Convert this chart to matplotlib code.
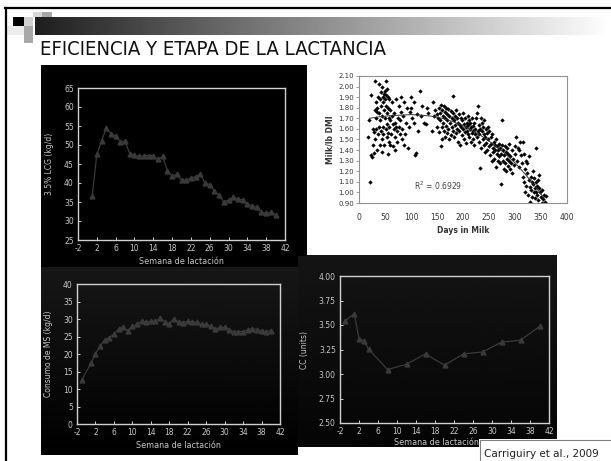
import numpy as np
import matplotlib.pyplot as plt
from matplotlib.patches import Rectangle

plt.rcParams['axes.unicode_minus'] = False
plt.rcParams['font.family'] = ['DejaVu Sans']

# --- panel 1: 3.5% LCG by week of lactation
weeks_lcg = list(range(1, 41))
lcg = [36.5, 47.5, 51.0, 54.5, 53.0, 52.3, 50.8, 51.0, 47.7, 47.3,
       47.0, 47.2, 47.2, 47.2, 46.3, 47.0, 43.2, 41.8, 42.3, 40.8,
       40.8, 41.3, 41.7, 42.3, 40.0, 39.6, 38.0, 36.8, 35.0, 35.5,
       36.3, 35.7, 35.6, 34.5, 34.0, 33.6, 32.3, 32.0, 32.3, 31.7]

# --- panel 3: dry matter intake
weeks_ms = [-1] + list(range(1, 41))
ms = [12.5, 17.3, 20.0, 22.3, 24.0, 24.7, 25.7, 27.1, 27.8, 26.6, 27.9,
      28.5, 29.4, 29.1, 29.4, 29.3, 30.2, 29.2, 28.7, 30.1, 29.1,
      29.0, 29.3, 29.2, 29.1, 28.5, 28.5, 27.9, 27.1, 27.6, 27.6,
      27.0, 26.3, 26.4, 26.4, 26.9, 27.2, 27.0, 26.6, 26.4, 26.7]

# --- panel 4: body condition
weeks_cc = [-1, 1, 2, 3, 4, 8, 12, 16, 20, 24, 28, 32, 36, 40]
cc = [3.54, 3.615, 3.36, 3.34, 3.255, 3.045, 3.10, 3.205, 3.09, 3.205,
      3.225, 3.325, 3.345, 3.485]

# --- panel 2: milk / lb DMI scatter
pts = [
    (18, 1.52), (20, 1.68), (22, 1.10), (23, 1.92), (24, 1.35), (25, 1.33), (26, 1.60), (27, 1.45),
    (28, 1.57), (28, 1.37), (30, 1.78), (30, 2.05), (31, 1.50), (32, 1.85), (32, 1.70), (33, 1.60),
    (34, 1.76), (35, 1.40), (35, 1.80), (36, 1.90), (37, 1.55), (38, 1.62), (38, 2.02), (39, 1.75),
    (40, 1.88), (40, 1.45), (41, 1.68), (42, 1.95), (42, 1.58), (43, 1.82), (44, 1.50), (44, 1.72),
    (45, 2.00), (45, 1.38), (46, 1.90), (46, 1.62), (47, 1.85), (47, 1.55), (48, 1.78), (48, 1.93),
    (49, 1.45), (50, 1.70), (50, 1.96), (50, 1.88), (51, 2.05), (51, 1.60), (52, 1.82), (52, 1.92),
    (53, 1.52), (53, 1.75), (54, 1.65), (54, 1.98), (55, 1.90), (55, 1.36), (56, 1.80), (56, 1.56),
    (57, 1.70), (57, 1.88), (58, 1.48), (58, 1.62), (59, 1.78), (60, 1.68), (60, 1.45),
    (62, 1.55), (63, 1.72), (64, 1.85), (65, 1.44), (66, 1.65), (67, 1.60), (68, 1.75), (69, 1.52),
    (70, 1.40), (70, 1.66), (72, 1.62), (72, 1.88), (73, 1.58), (74, 1.48), (75, 1.70), (76, 1.62),
    (77, 1.82), (78, 1.55), (79, 1.68), (80, 1.76), (80, 1.90), (82, 1.50), (83, 1.60), (84, 1.72),
    (86, 1.45), (86, 1.85), (88, 1.55), (90, 1.66), (92, 1.80), (95, 1.42), (96, 1.62), (98, 1.76),
    (100, 1.80), (100, 1.90), (102, 1.70), (105, 1.85), (106, 1.66), (108, 1.35), (110, 1.37),
    (112, 1.74), (114, 1.58), (118, 1.96), (120, 1.72), (122, 1.82), (125, 1.66), (128, 1.65),
    (130, 1.80), (132, 1.75), (140, 1.58), (143, 1.85), (145, 1.72), (147, 1.78), (150, 1.62),
    (150, 1.74), (152, 1.70), (153, 1.80), (154, 1.57), (155, 1.75), (156, 1.68), (157, 1.44),
    (158, 1.83), (159, 1.62), (160, 1.78), (160, 1.50), (161, 1.72), (162, 1.66), (163, 1.82),
    (164, 1.58), (165, 1.76), (165, 1.70), (166, 1.52), (167, 1.80), (168, 1.63), (169, 1.74),
    (170, 1.68), (170, 1.56), (171, 1.79), (172, 1.60), (173, 1.72), (174, 1.50), (175, 1.66),
    (176, 1.77), (177, 1.54), (178, 1.70), (179, 1.62), (180, 1.75), (180, 1.91), (181, 1.58),
    (182, 1.68), (183, 1.52), (184, 1.72), (185, 1.64), (186, 1.78), (187, 1.56), (188, 1.70),
    (189, 1.60), (190, 1.66), (190, 1.48), (192, 1.74), (193, 1.58), (194, 1.64), (195, 1.45),
    (196, 1.70), (197, 1.62), (198, 1.54), (199, 1.68), (200, 1.60), (200, 1.75), (201, 1.50),
    (202, 1.65), (203, 1.57), (204, 1.70), (205, 1.62), (206, 1.47), (207, 1.66), (208, 1.58),
    (209, 1.72), (210, 1.55), (210, 1.64), (211, 1.68), (212, 1.52), (213, 1.60), (214, 1.66),
    (215, 1.48), (216, 1.62), (217, 1.56), (218, 1.70), (219, 1.50), (220, 1.63), (220, 1.58),
    (221, 1.45), (222, 1.66), (223, 1.55), (224, 1.60), (225, 1.70), (226, 1.52), (227, 1.75),
    (228, 1.58), (229, 1.82), (230, 1.48), (230, 1.64), (231, 1.55), (232, 1.23), (233, 1.60),
    (234, 1.70), (235, 1.42), (236, 1.58), (237, 1.66), (238, 1.50), (239, 1.62), (240, 1.45),
    (240, 1.55), (241, 1.68), (242, 1.38), (243, 1.52), (244, 1.60), (245, 1.47), (246, 1.56),
    (247, 1.40), (248, 1.62), (249, 1.50), (250, 1.44), (250, 1.58), (252, 1.35), (253, 1.52),
    (254, 1.46), (255, 1.30), (256, 1.55), (257, 1.42), (258, 1.38), (259, 1.48), (260, 1.32),
    (261, 1.45), (262, 1.40), (263, 1.24), (264, 1.50), (265, 1.36), (266, 1.44), (267, 1.30),
    (268, 1.40), (269, 1.46), (270, 1.34), (271, 1.28), (272, 1.42), (273, 1.08), (274, 1.36),
    (275, 1.68), (275, 1.45), (276, 1.30), (277, 1.40), (278, 1.22), (279, 1.35), (280, 1.44),
    (281, 1.28), (282, 1.38), (283, 1.20), (284, 1.32), (285, 1.42), (286, 1.25), (287, 1.36),
    (288, 1.30), (289, 1.46), (290, 1.22), (291, 1.34), (292, 1.28), (294, 1.40), (295, 1.18),
    (296, 1.32), (298, 1.26), (300, 1.36), (300, 1.44), (302, 1.52), (304, 1.30), (305, 1.42),
    (307, 1.24), (308, 1.40), (310, 1.48), (312, 1.35), (314, 1.28), (315, 1.48), (316, 1.15),
    (318, 1.10), (318, 1.36), (320, 1.00), (320, 1.22), (321, 1.30), (322, 1.06), (323, 1.18),
    (324, 1.28), (325, 0.98), (326, 1.12), (327, 1.34), (328, 1.05), (329, 0.91), (330, 1.15),
    (331, 1.02), (332, 1.10), (333, 0.96), (334, 1.20), (335, 1.08), (336, 1.00), (337, 1.14),
    (338, 1.04), (339, 0.95), (340, 1.42), (340, 1.10), (341, 1.00), (342, 1.06), (343, 0.98),
    (344, 1.12), (345, 0.93), (346, 1.04), (347, 1.16), (348, 1.00), (350, 0.96), (351, 0.90),
    (352, 1.02), (354, 0.94), (356, 0.98), (358, 0.91), (360, 0.97),
]
dim_days = [p[0] for p in pts]
milk_dmi = [p[1] for p in pts]

# fitted trend as drawn
trend_days = [20, 40, 60, 80, 100, 120, 140, 160, 180, 200, 220, 240, 260, 280, 300, 320, 340, 355]
trend_vals = [1.70, 1.715, 1.725, 1.73, 1.735, 1.73, 1.72, 1.70, 1.67, 1.63, 1.58, 1.52,
              1.45, 1.37, 1.28, 1.17, 1.05, 0.95]

W, H = 611, 461
fig = plt.figure(figsize=(6.11, 4.61), dpi=100)
fig.patch.set_facecolor('white')

# background canvas in pixel coords for slide decoration
bg = fig.add_axes([0, 0, 1, 1])
bg.axis('off')


def box(x, y, w, h, color):
    bg.add_patch(Rectangle((x, y), w, h, facecolor=color, lw=0))


# title bar gradient and squares
bg.imshow(np.linspace(0.12, 0.99, 256)[None, :], cmap='gray', vmin=0, vmax=1,
          extent=(35, 605, 35, 17), aspect='auto')
box(33, 12, 9, 5, '#d8d8d8')
box(42, 12, 10, 5, '#a8a8a8')
box(13, 17, 11, 9, 'black')
box(24, 17, 9, 9, '#d0d0d0')
box(5, 26, 19, 9, '#ececec')
box(24, 26, 9, 9, '#a8a8a8')
box(24, 35, 9, 8, '#a8a8a8')
bg.plot([5, 611], [8.5, 8.5], color='black', lw=1.6)
bg.plot([5.5, 5.5], [8, 461], color='black', lw=1.6)

# dark chart backgrounds
box(41, 65, 266, 191, 'black')
box(41, 256, 257, 11, 'black')
bg.imshow(np.linspace(0.09, 0.0, 64)[:, None], cmap='gray', vmin=0, vmax=1,
          extent=(41, 298, 455, 267), aspect='auto')
bg.imshow(np.linspace(0.08, 0.02, 64)[:, None], cmap='gray', vmin=0, vmax=1,
          extent=(298, 557, 447, 256), aspect='auto')

# citation box
box(479, 439, 132, 22, 'white')
bg.plot([479.5, 479.5, 611], [461, 439.5, 439.5], color='#808080', lw=0.8)
bg.text(484, 457, 'Carriguiry et al., 2009', fontsize=7.5, color='#202020')

bg.set_xlim(0, W)
bg.set_ylim(H, 0)

bg.text(40, 55, 'EFICIENCIA Y ETAPA DE LA LACTANCIA', fontsize=14.6,
        fontstretch='condensed', color='#111111')


def px_axes(x0, y0, x1, y1):
    return fig.add_axes([x0 / W, 1 - y1 / H, (x1 - x0) / W, (y1 - y0) / H])


def dark_panel(ax, ylabel, xpad=3):
    ax.set_facecolor('none')
    for s in ax.spines.values():
        s.set_color('#d0d0d0')
        s.set_linewidth(1.0)
    ax.tick_params(direction='in', length=2.5, width=0.7, color='#d0d0d0',
                   labelcolor='#c8c8c8', labelsize=5.5, pad=3)
    ax.set_xlim(-2, 42)
    ax.set_xticks(range(-2, 43, 4))
    ax.set_xlabel('Semana de lactación', color='#c8c8c8', fontsize=5.8, labelpad=xpad)
    ax.set_ylabel(ylabel, color='#c8c8c8', fontsize=5.5, labelpad=7)


line_kw = dict(color='#3a3a3a', marker='^', markersize=3.5, lw=0.9)

ax1 = px_axes(78, 88, 285, 240)
dark_panel(ax1, '3.5% LCG (kg/d)')
ax1.plot(weeks_lcg, lcg, **line_kw)
ax1.set_ylim(25, 65)
ax1.set_yticks(range(25, 66, 5))

ax3 = px_axes(77, 284, 280, 424)
dark_panel(ax3, 'Consumo de MS (kg/d)')
ax3.plot(weeks_ms, ms, **line_kw)
ax3.set_ylim(0, 40)
ax3.set_yticks(range(0, 41, 5))

ax4 = px_axes(340, 276, 549, 423)
dark_panel(ax4, 'CC (units)', xpad=2)
ax4.xaxis.set_label_coords(0.46, -0.1)
ax4.plot(weeks_cc, cc, **line_kw)
ax4.set_ylim(2.5, 4.0)
ax4.set_yticks([2.5, 2.75, 3.0, 3.25, 3.5, 3.75, 4.0])
ax4.set_yticklabels(['%.2f' % v for v in [2.5, 2.75, 3.0, 3.25, 3.5, 3.75, 4.0]])

# scatter panel
ax2 = px_axes(359, 76, 567, 203)
ax2.scatter(dim_days, milk_dmi, marker='D', s=5, color='black', lw=0)
ax2.plot(trend_days, trend_vals, color='#333333', lw=0.7)
ax2.set_xlim(0, 400)
ax2.set_ylim(0.9, 2.1)
ax2.set_xticks(range(0, 401, 50))
ax2.set_yticks(np.round(np.arange(0.9, 2.11, 0.1), 2))
ax2.set_yticklabels(['%.2f' % v for v in np.arange(0.9, 2.11, 0.1)])
for s in ax2.spines.values():
    s.set_color('#909090')
    s.set_linewidth(0.8)
ax2.tick_params(axis='x', length=0, labelsize=5.5, labelcolor='#333333', pad=7)
ax2.tick_params(axis='y', length=2, width=0.6, color='#909090', labelsize=5, labelcolor='#333333', pad=1.5)
ax2.set_xlabel('Days in Milk', fontsize=5.5, fontweight='bold', color='#333333', labelpad=3)
ax2.set_ylabel('Milk/lb DMI', fontsize=5.5, fontweight='bold', color='#333333', labelpad=3)
ax2.text(106, 1.06, '$\\mathregular{R^2}$ = 0.6929', fontsize=5.5, color='#444444', ha='left', va='center')

fig.savefig('out.png', dpi=100)
